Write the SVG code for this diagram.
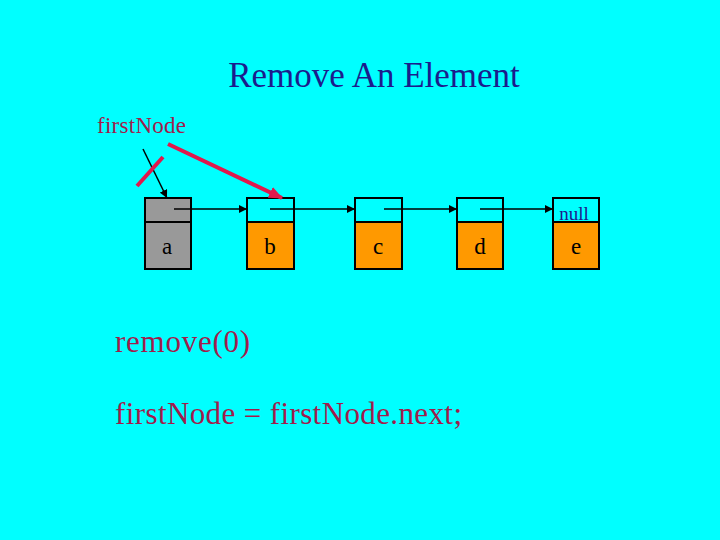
<svg xmlns="http://www.w3.org/2000/svg" width="720" height="540" viewBox="0 0 720 540">
<style>
.top{fill:#00ffff;stroke:#000;stroke-width:2}
.bot{stroke:#000;stroke-width:2}
.lbl{font-family:"Liberation Serif",serif;font-size:23px;fill:#000;text-anchor:middle}
.ptr{stroke:#000;stroke-width:1.5;fill:none}
.red{stroke:#e0184c;stroke-width:4;fill:none}
.txt{font-family:"Liberation Serif",serif;fill:#a01c4c}
</style>
<defs>
<marker id="ah" markerWidth="8" markerHeight="8" refX="8" refY="4" orient="auto" markerUnits="userSpaceOnUse"><path d="M0,0 L8,4 L0,8 z" fill="#000"/></marker>
<marker id="rh" markerWidth="14" markerHeight="12" refX="13" refY="6" orient="auto" markerUnits="userSpaceOnUse"><path d="M0,0 L14,6 L0,12 z" fill="#e0184c"/></marker>
</defs>
<rect width="720" height="540" fill="#00ffff"/>
<text x="374" y="87" font-family="Liberation Serif,serif" font-size="35" fill="#1c1c8c" text-anchor="middle">Remove An Element</text>
<text class="txt" x="97" y="133" font-size="23" textLength="89">firstNode</text>
<g id="nodeA"><rect x="145" y="222" width="46" height="47" fill="#999999" class="bot"/><rect x="145" y="198" width="46" height="24" fill="#999999" class="bot"/><text class="lbl" x="167" y="254">a</text></g>
<g id="nodeB"><rect x="247" y="222" width="47" height="47" fill="#ff9900" class="bot"/><rect x="247" y="198" width="47" height="24" class="top"/><text class="lbl" x="270" y="254">b</text></g>
<g id="nodeC"><rect x="355" y="222" width="47" height="47" fill="#ff9900" class="bot"/><rect x="355" y="198" width="47" height="24" class="top"/><text class="lbl" x="378" y="254">c</text></g>
<g id="nodeD"><rect x="457" y="222" width="46" height="47" fill="#ff9900" class="bot"/><rect x="457" y="198" width="46" height="24" class="top"/><text class="lbl" x="480" y="254">d</text></g>
<g id="nodeE"><rect x="553" y="222" width="46" height="47" fill="#ff9900" class="bot"/><rect x="553" y="198" width="46" height="24" class="top"/><text x="574" y="220" font-family="Liberation Serif,serif" font-size="19" fill="#1c1c8c" text-anchor="middle">null</text><text class="lbl" x="576" y="254">e</text></g>
<g id="connectors">
<line class="ptr" x1="174" y1="209" x2="247" y2="209" marker-end="url(#ah)"/>
<line class="ptr" x1="270" y1="209" x2="355" y2="209" marker-end="url(#ah)"/>
<line class="ptr" x1="384" y1="209" x2="457" y2="209" marker-end="url(#ah)"/>
<line class="ptr" x1="480" y1="209" x2="553" y2="209" marker-end="url(#ah)"/>
<line class="ptr" x1="143" y1="149" x2="167" y2="198" marker-end="url(#ah)"/>
<line class="red" x1="137" y1="186" x2="163" y2="157"/>
<line class="red" x1="168" y1="144" x2="282" y2="198" marker-end="url(#rh)"/>
</g>
<text class="txt" x="115" y="352" font-size="31" textLength="135">remove(0)</text>
<text class="txt" x="115" y="424" font-size="31" textLength="347">firstNode = firstNode.next;</text>
</svg>
